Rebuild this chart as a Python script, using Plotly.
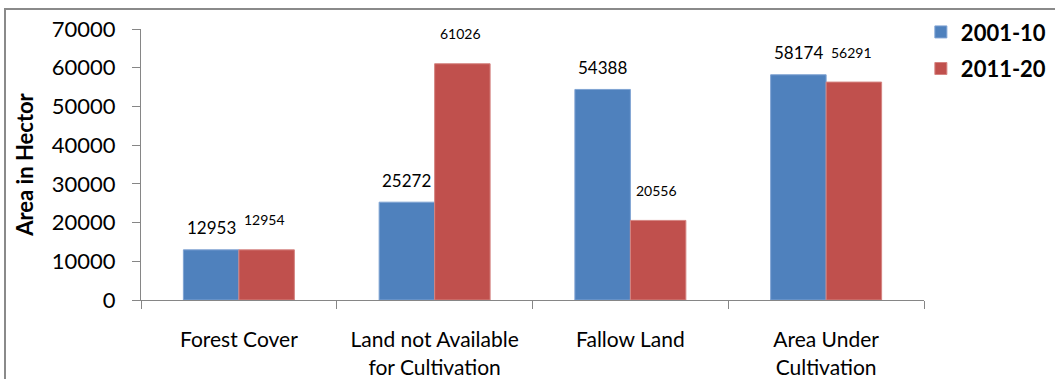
import plotly.graph_objects as go

categories = ["Forest Cover", "Land not Available<br>for Cultivation", "Fallow Land", "Area Under<br>Cultivation"]
series_names = ["2001-10", "2011-20"]
values_2001_10 = [12953, 25272, 54388, 58174]
values_2011_20 = [12954, 61026, 20556, 56291]
y_ticks = [0, 10000, 20000, 30000, 40000, 50000, 60000, 70000]

BLUE = "#4F81BD"
RED = "#C0504D"
AXIS = "#868686"
FONT = "Lato"

fig = go.Figure()
fig.add_trace(go.Bar(x=categories, y=values_2001_10, name=series_names[0],
                     marker=dict(color=BLUE, line=dict(color="#7FA3D3", width=1)),
                     legendgroup="a"))
fig.add_trace(go.Bar(x=categories, y=values_2011_20, name=series_names[1],
                     marker=dict(color=RED, line=dict(color="#D58481", width=1)),
                     legendgroup="b"))

# data labels
plot_w = 1055 - 141 - 131
cat_w = plot_w / len(categories)
bargap = 0.433
bar_w = cat_w * (1 - bargap) / 2
for c, v in zip(categories, values_2001_10):
    fig.add_annotation(x=c, y=v, text=str(v), showarrow=False, xshift=-bar_w / 2,
                       yshift=22, yanchor="middle",
                       font=dict(family=FONT, size=17, color="#000000"))
for c, v in zip(categories, values_2011_20):
    fig.add_annotation(x=c, y=v, text=str(v), showarrow=False, xshift=bar_w / 2 - 2,
                       yshift=30, yanchor="middle",
                       font=dict(family=FONT, size=14, color="#000000"))

# chart border
fig.add_shape(type="rect", xref="paper", yref="paper",
              x0=(5 - 141) / plot_w, x1=1.25, y0=-0.4, y1=(300 - 9) / 271,
              line=dict(color="#8A8A8A", width=2), fillcolor="rgba(0,0,0,0)", layer="below")

fig.update_layout(
    width=1055, height=379,
    margin=dict(l=141, r=131, t=29, b=79, autoexpand=False),
    paper_bgcolor="white", plot_bgcolor="white",
    barmode="group", bargap=bargap, bargroupgap=0,
    font=dict(family=FONT, color="#000000"),
    showlegend=True,
    legend=dict(x=0.996, xanchor="left", y=1.066, yanchor="top",
                font=dict(family=FONT, size=22, color="#000000", weight="bold"),
                tracegroupgap=5, bgcolor="rgba(0,0,0,0)"),
)
fig.update_xaxes(
    type="category", showline=True, linecolor=AXIS, linewidth=1,
    ticks="outside", tickson="boundaries", ticklen=8, tickcolor=AXIS,
    tickfont=dict(family=FONT, size=21, color="#000000"),
    ticklabelstandoff=21, showgrid=False, zeroline=False, automargin=False,
)
fig.update_yaxes(
    range=[0, 70000], tickvals=y_ticks, ticktext=[str(t) for t in y_ticks],
    showline=True, linecolor=AXIS, linewidth=1,
    ticks="outside", ticklen=8, tickcolor=AXIS,
    tickfont=dict(family=FONT, size=22, color="#000000"),
    ticklabelstandoff=12, showgrid=False, zeroline=False, automargin=False,
    title=dict(text="<b>Area in Hector</b>", font=dict(family=FONT, size=22, color="#000000"), standoff=12),
)

fig.write_html("out.html")
